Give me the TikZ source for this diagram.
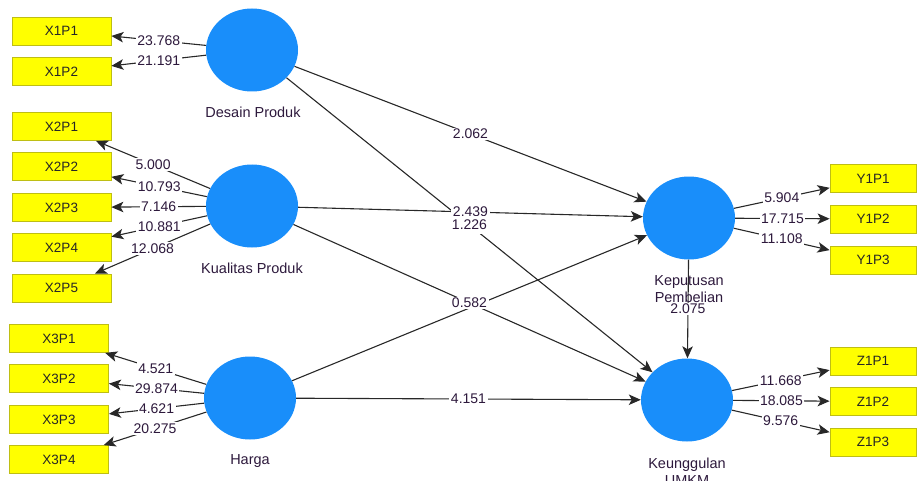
\documentclass[tikz,border=0pt]{standalone}
\usepackage{fontspec}
\setmainfont{Liberation Sans}
\usetikzlibrary{shapes.geometric,arrows.meta}
\definecolor{lv}{RGB}{25,142,250}
\definecolor{ind}{RGB}{255,255,0}
\definecolor{indb}{RGB}{190,190,20}
\definecolor{txt}{RGB}{45,25,60}
\definecolor{ln}{RGB}{40,40,40}
\begin{document}
\begin{tikzpicture}[x=1pt,y=-1pt,
 latent/.style={ellipse, fill=lv, minimum width=92pt, minimum height=83pt, inner sep=0pt},
 indic/.style={rectangle, fill=ind, draw=indb, line width=0.8pt, minimum width=99pt, minimum height=28pt, inner sep=0pt, font=\fontsize{13.5}{14}\selectfont, text=black!85},
 indr/.style={indic, minimum width=86pt},
 lbl/.style={text=txt, font=\fontsize{14.5}{17}\selectfont, align=center, inner sep=0pt},
 val/.style={fill=white, text=txt, font=\fontsize{14}{15}\selectfont, inner sep=1.5pt},
 link/.style={draw=ln, line width=1.1pt, -{Stealth[length=12pt,width=10.5pt,inset=3pt]}},
]
\useasboundingbox (0,0) rectangle (917,481);
\clip (0,0) rectangle (917,481);

% latent variables
\node[latent] (dp) at (252,50) {};
\node[latent] (kp) at (252,206) {};
\node[latent] (hg) at (250,398) {};
\node[latent] (kb) at (689,218) {};
\node[latent] (ku) at (687,400) {};

% indicators
\node[indic] (x11) at (61.5,31) {X1P1};
\node[indic] (x12) at (61.5,71.5) {X1P2};
\node[indic] (x21) at (61.5,126.5) {X2P1};
\node[indic] (x22) at (61.5,166.5) {X2P2};
\node[indic] (x23) at (61.5,207.5) {X2P3};
\node[indic] (x24) at (61.5,247.5) {X2P4};
\node[indic] (x25) at (61.5,288) {X2P5};
\node[indic] (x31) at (59,338.5) {X3P1};
\node[indic] (x32) at (59,378.5) {X3P2};
\node[indic] (x33) at (59,419.5) {X3P3};
\node[indic] (x34) at (59,459.5) {X3P4};
\node[indr] (y1) at (873,178.5) {Y1P1};
\node[indr] (y2) at (873,219) {Y1P2};
\node[indr] (y3) at (873,260) {Y1P3};
\node[indr] (z1) at (873,361) {Z1P1};
\node[indr] (z2) at (873,401.5) {Z1P2};
\node[indr] (z3) at (873,442) {Z1P3};

% outer connectors
\foreach \a/\b in {dp/x11,dp/x12,kp/x21,kp/x22,kp/x23,kp/x24,kp/x25,hg/x31,hg/x32,hg/x33,hg/x34,kb/y1,kb/y2,kb/y3,ku/z1,ku/z2,ku/z3}
  \draw[link] (\a) -- (\b);

% inner connectors
\draw[link] (dp) -- (kb);
\draw[link] (hg) -- (kb);
\draw[link] (kp) -- (kb);
\draw[link] (dp) -- (ku);
\draw[link] (kp) -- (ku);
\draw[link] (hg) -- (ku);
\draw[link] (kb) -- (ku);

% latent labels
\node[lbl] (ldp) at (253,112) {Desain Produk};
\node[lbl] (lkp) at (252,268) {Kualitas Produk};
\node[lbl] (lhg) at (250,461) {Harga};
\node[lbl] (lkb) at (689,289.5) {Keputusan\\Pembelian};
\node[lbl] (lku) at (687,471.5) {Keunggulan\\UMKM};

% outer values
\path (dp) -- (x11) node[val,midway] {23.768};
\path (dp) -- (x12) node[val,midway] {21.191};
\path (kp) -- (x21) node[val,midway] {5.000};
\path (kp) -- (x22) node[val,midway] {10.793};
\path (kp) -- (x23) node[val,midway] {7.146};
\path (kp) -- (x24) node[val,midway] {10.881};
\path (kp) -- (x25) node[val,midway] {12.068};
\path (hg) -- (x31) node[val,midway] {4.521};
\path (hg) -- (x32) node[val,midway] {29.874};
\path (hg) -- (x33) node[val,midway] {4.621};
\path (hg) -- (x34) node[val,midway] {20.275};
\path (kb) -- (y1) node[val,midway] {5.904};
\path (kb) -- (y2) node[val,midway] {17.715};
\path (kb) -- (y3) node[val,midway] {11.108};
\path (ku) -- (z1) node[val,midway] {11.668};
\path (ku) -- (z2) node[val,midway] {18.085};
\path (ku) -- (z3) node[val,midway] {9.576};

% inner values
\path (dp) -- (kb) node[val,midway] {2.062};
\path (kp) -- (kb) node[val,midway] {2.439};
\path (dp) -- (ku) node[val,midway,inner ysep=4.5pt] {1.226};
\path (kp) -- (ku) node[val,midway] {0.582};
\path (hg) -- (ku) node[val,midway] {4.151};
\path (kb) -- (ku) node[val,midway] {2.075};
\end{tikzpicture}
\end{document}
